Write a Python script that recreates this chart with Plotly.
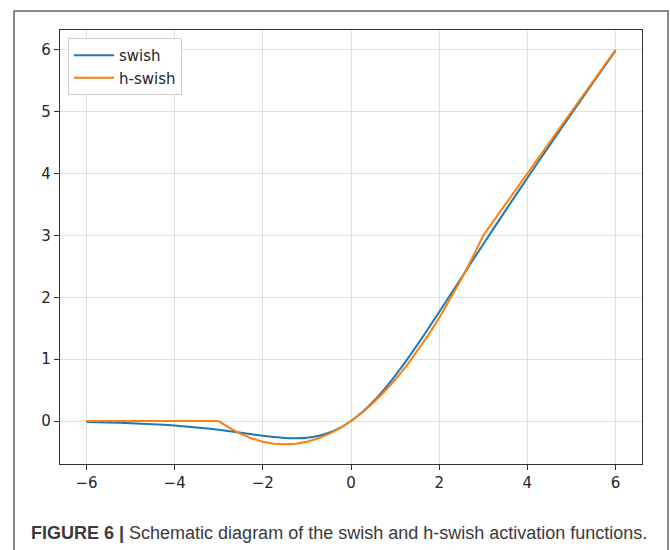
import plotly.graph_objects as go

# Sample positions along the input axis
x_vals = [-6, -5.5, -5, -4.5, -4, -3.5, -3, -2.75, -2.5, -2.25, -2, -1.75, -1.5, -1.25,
          -1, -0.75, -0.5, -0.25, 0, 0.25, 0.5, 0.75, 1, 1.25, 1.5, 1.75, 2, 2.25,
          2.5, 2.75, 3, 3.5, 4, 4.5, 5, 5.5, 6]

# swish activation output
swish_vals = [-0.015, -0.022, -0.034, -0.050, -0.072, -0.103, -0.142, -0.165, -0.190,
              -0.215, -0.238, -0.259, -0.274, -0.278, -0.269, -0.241, -0.189, -0.109,
              0.0, 0.141, 0.311, 0.509, 0.731, 0.972, 1.226, 1.491, 1.762, 2.036,
              2.310, 2.585, 2.858, 3.397, 3.928, 4.451, 4.967, 5.478, 5.985]

# h-swish activation output
hswish_vals = [0.0, 0.0, 0.0, 0.0, 0.0, 0.0, 0.0, -0.115, -0.208, -0.281, -0.333, -0.365,
               -0.375, -0.365, -0.333, -0.281, -0.208, -0.115, 0.0, 0.135, 0.292, 0.469,
               0.667, 0.885, 1.125, 1.385, 1.667, 1.969, 2.292, 2.635, 3.0, 3.5, 4.0,
               4.5, 5.0, 5.5, 6.0]

x_ticks = [-6, -4, -2, 0, 2, 4, 6]
y_ticks = [0, 1, 2, 3, 4, 5, 6]

caption_bold = "FIGURE 6 |"
caption_text = " Schematic diagram of the swish and h-swish activation functions."

fig = go.Figure()
fig.add_trace(go.Scatter(x=x_vals, y=swish_vals, mode="lines", name="swish",
                         line=dict(color="#1f77b4", width=2, shape="spline", smoothing=0.6)))
fig.add_trace(go.Scatter(x=x_vals, y=hswish_vals, mode="lines", name="h-swish",
                         line=dict(color="#ff7f0e", width=2)))

tick_font = dict(family="DejaVu Sans", size=15, color="#262626")
axis_common = dict(showline=True, mirror=True, linecolor="#333333", linewidth=1.2,
                   ticks="outside", ticklen=5, tickwidth=1, tickcolor="#333333",
                   showgrid=True, gridcolor="#e0e0e0", gridwidth=1,
                   zeroline=False, tickfont=tick_font)

fig.update_xaxes(range=[-6.6, 6.6], tickvals=x_ticks,
                 ticktext=[str(v).replace("-", "\u2212") for v in x_ticks], **axis_common)
fig.update_yaxes(range=[-0.694, 6.319], tickvals=y_ticks,
                 ticktext=[str(v) for v in y_ticks], **axis_common)

L, R, T, B = 60, 28, 30, 86
W, H = 670, 550
pw, ph = W - L - R, H - T - B

def px_x(p):
    return (p - L) / pw

def px_y(p):
    return (H - B - p) / ph

# outer frame around figure and caption
fig.add_shape(type="rect", xref="paper", yref="paper",
              x0=px_x(14), x1=px_x(668), y0=px_y(570), y1=px_y(11),
              line=dict(color="#666666", width=1.5), fillcolor="rgba(0,0,0,0)", layer="below")

fig.add_annotation(xref="paper", yref="paper", x=px_x(29), y=px_y(533),
                   xanchor="left", yanchor="middle", showarrow=False,
                   text=f"<b>{caption_bold}</b>{caption_text}",
                   font=dict(family="Liberation Sans", size=18, color="#3a3a3a"))

fig.update_layout(
    width=W, height=H,
    margin=dict(l=L, r=R, t=T, b=B),
    paper_bgcolor="white", plot_bgcolor="white",
    showlegend=True,
    legend=dict(x=px_x(68), y=px_y(38), xanchor="left", yanchor="top",
                bgcolor="rgba(255,255,255,0.9)", bordercolor="#d0d0d0", borderwidth=1,
                font=dict(family="DejaVu Sans", size=15, color="#262626"),
                tracegroupgap=0, itemwidth=40),
)

fig.write_html("out.html")
